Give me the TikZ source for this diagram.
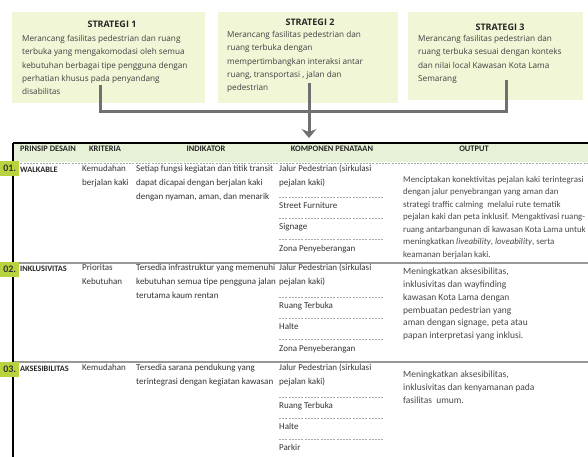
\documentclass[tikz,border=0pt]{standalone}
\usepackage{fontspec}
\setmainfont{Carlito}
\newfontfamily\boxfont{Open Sans}
\usetikzlibrary{positioning, arrows.meta}

\definecolor{boxfill}{RGB}{240,246,214}
\definecolor{linkgray}{RGB}{112,112,112}
\definecolor{headfill}{RGB}{231,241,216}
\definecolor{badgegreen}{RGB}{183,212,62}

\begin{document}
\begin{tikzpicture}[x=1pt, y=-1pt,
    stratbox/.style={rectangle, fill=boxfill, anchor=north west, inner sep=0pt},
    strathead/.style={font=\boxfont\bfseries\fontsize{9}{10}\selectfont, text=black!85, inner sep=0pt},
    strattext/.style={font=\boxfont\fontsize{8.2}{13.3}\selectfont, text=black!75, align=left,
                      anchor=north west, inner sep=0pt},
    link/.style={draw=linkgray, line width=3pt},
    arrow/.style={-{Stealth[length=9pt, width=15pt, inset=3pt]}, draw=linkgray, line width=3pt},
    colhead/.style={font=\bfseries\fontsize{8.4}{9}\selectfont, text=black!85, inner sep=0pt},
    badge/.style={fill=badgegreen, font=\bfseries\fontsize{10}{11}\selectfont, text=black!80,
                  inner sep=0pt, minimum height=15pt, minimum width=19pt, anchor=west},
    prinsip/.style={font=\bfseries\fontsize{8.3}{9}\selectfont, text=black!85, anchor=west, inner sep=0pt},
    cell/.style={font=\fontsize{9}{13.8}\selectfont, text=black!80, align=left, anchor=north west, inner sep=0pt},
    outcell/.style={font=\fontsize{9.5}{12.8}\selectfont, text=black!72, align=left, anchor=north west, inner sep=0pt},
    itemsep/.style={draw=black!35, dash pattern=on 2pt off 1.2pt, line width=0.4pt},
    rowsep/.style={draw=black!40, line width=1.2pt}
]
    \useasboundingbox (0,0) rectangle (588,457);

    % Strategy boxes
    \node[stratbox, minimum width=193pt, minimum height=91pt] (s1) at (12,12) {};
    \node[stratbox, minimum width=180pt, minimum height=91pt] (s2) at (218,12) {};
    \node[stratbox, minimum width=175pt, minimum height=88pt] (s3) at (408,12) {};

    \node[strathead] (t1) at (112,24) {STRATEGI 1};
    \node[strathead] (t2) at (310,22) {STRATEGI 2};
    \node[strathead] (t3) at (500,27) {STRATEGI 3};

    \node[strattext] (b1) at (22,35) {Merancang fasilitas pedestrian dan ruang\\
        terbuka yang mengakomodasi oleh semua\\kebutuhan berbagai tipe pengguna dengan\\
        perhatian khusus pada penyandang\\disabilitas};
    \node[strattext] (b2) at (227,31) {Merancang fasilitas pedestrian dan\\ruang terbuka dengan\\
        mempertimbangkan interaksi antar\\ruang, transportasi , jalan dan\\pedestrian};
    \node[strattext] (b3) at (418,35) {Merancang fasilitas pedestrian dan\\
        ruang terbuka sesuai dengan konteks\\dan nilai local Kawasan Kota Lama\\Semarang};

    % Links to table
    \coordinate (s1a) at (100,85);
    \coordinate (s2a) at (309,83);
    \coordinate (s3a) at (506,80);
    \coordinate (bar1) at (100,112);
    \coordinate (bar2) at (309,112);
    \coordinate (bar3) at (506,112);
    \coordinate (tab) at (309,138);
    \draw[link] (s1a) -- (bar1) -- (bar3) -- (s3a);
    \draw[link] (s2a) -- (bar2);
    \draw[arrow] (bar2) -- (tab);

    % Table frame
    \fill[headfill] (14,144) rectangle (588,162);
    \draw[line width=1.6pt] (13,143) -- (588,143);
    \draw[line width=1.6pt] (13,143) -- (13,457);
    \draw[itemsep] (14,163) -- (588,163);
    \draw[rowsep] (14,263) -- (588,263);
    \draw[rowsep] (14,362) -- (588,362);

    % Header
    \node[colhead] (hprinsip) at (48,149) {PRINSIP DESAIN};
    \node[colhead] (hkriteria) at (105,149) {KRITERIA};
    \node[colhead] (hindikator) at (206,149) {INDIKATOR};
    \node[colhead] (hkomponen) at (332,149) {KOMPONEN PENATAAN};
    \node[colhead] (houtput) at (474,149) {OUTPUT};

    % Row 1
    \node[badge] (n1) at (0,168.5) {01.};
    \node[prinsip] (r1p) at (20,170) {WALKABLE};
    \node[cell] (r1k) at (82,165) {Kemudahan\\berjalan kaki};
    \node[cell] (r1i) at (136,165) {Setiap fungsi kegiatan dan titik transit\\
        dapat dicapai dengan berjalan kaki\\dengan nyaman, aman, dan menarik};
    \node[cell] (r1c1) at (279,165) {Jalur Pedestrian (sirkulasi\\pejalan kaki)};
    \node[cell] (r1c2) at (279,202) {Street Furniture};
    \node[cell] (r1c3) at (279,223) {Signage};
    \node[cell] (r1c4) at (279,245) {Zona Penyeberangan};
    \draw[itemsep] (279,197) -- (383,197);
    \draw[itemsep] (279,218) -- (383,218);
    \draw[itemsep] (279,239) -- (383,239);
    \node[outcell, font=\fontsize{8.9}{12.5}\selectfont] (r1o) at (403,176) {Menciptakan konektivitas pejalan kaki terintegrasi\\
        dengan jalur penyebrangan yang aman dan\\strategi traffic calming~ melalui rute tematik\\
        pejalan kaki dan peta inklusif. Mengaktivasi ruang-\\ruang antarbangunan di kawasan Kota Lama untuk\\
        meningkatkan \textit{liveability}, \textit{loveability}, serta\\keamanan berjalan kaki.};

    % Row 2
    \node[badge] (n2) at (0,269) {02.};
    \node[prinsip] (r2p) at (20,269) {INKLUSIVITAS};
    \node[cell] (r2k) at (82,264) {Prioritas\\Kebutuhan};
    \node[cell] (r2i) at (136,264) {Tersedia infrastruktur yang memenuhi\\
        kebutuhan semua tipe pengguna jalan\\terutama kaum rentan};
    \node[cell] (r2c1) at (279,264) {Jalur Pedestrian (sirkulasi\\pejalan kaki)};
    \node[cell] (r2c2) at (279,302) {Ruang Terbuka};
    \node[cell] (r2c3) at (279,323) {Halte};
    \node[cell] (r2c4) at (279,345) {Zona Penyeberangan};
    \draw[itemsep] (279,297) -- (383,297);
    \draw[itemsep] (279,318) -- (383,318);
    \draw[itemsep] (279,339) -- (383,339);
    \node[outcell] (r2o) at (403,268) {Meningkatkan aksesibilitas,\\inklusivitas dan wayfinding\\
        kawasan Kota Lama dengan\\pembuatan pedestrian yang\\aman dengan signage, peta atau\\
        papan interpretasi yang inklusi.};

    % Row 3
    \node[badge] (n3) at (0,369) {03.};
    \node[prinsip] (r3p) at (20,369) {AKSESIBILITAS};
    \node[cell] (r3k) at (82,364) {Kemudahan};
    \node[cell] (r3i) at (136,364) {Tersedia sarana pendukung yang\\
        terintegrasi dengan kegiatan kawasan};
    \node[cell] (r3c1) at (279,364) {Jalur Pedestrian (sirkulasi\\pejalan kaki)};
    \node[cell] (r3c2) at (279,402) {Ruang Terbuka};
    \node[cell] (r3c3) at (279,423) {Halte};
    \node[cell] (r3c4) at (279,444) {Parkir};
    \draw[itemsep] (279,397) -- (383,397);
    \draw[itemsep] (279,418) -- (383,418);
    \draw[itemsep] (279,439) -- (383,439);
    \node[outcell] (r3o) at (403,371) {Meningkatkan aksesibilitas,\\
        inklusivitas dan kenyamanan pada\\fasilitas~ umum.};

\end{tikzpicture}
\end{document}
